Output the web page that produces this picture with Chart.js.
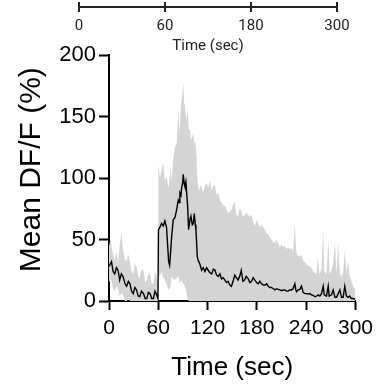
<!DOCTYPE html>
<html>
<head>
<meta charset="utf-8">
<script src="https://cdn.jsdelivr.net/npm/chart.js@4.4.0/dist/chart.umd.min.js"></script>
<style>
  html, body { margin: 0; padding: 0; background: #fff; }
  #wrap { position: relative; width: 379px; height: 388px; }
  #mainChart, #timelineChart { position: absolute; left: 0; top: 0; }
</style>
</head>
<body>
<div id="wrap">
  <canvas id="mainChart" width="379" height="388"></canvas>
  <canvas id="timelineChart" width="379" height="59"></canvas>
</div>
<script>
// timeline strip above the plot
const timelineLabels = ["0", "60", "180", "300"];

// main plot ticks
const xTicks = [0, 60, 120, 180, 240, 300];
const yTicks = [0, 50, 100, 150, 200];

// mean trace (sec, %)
const meanTimes = [0, 3, 5, 7, 9, 11, 13, 15, 17, 19.5, 21.5, 23.5, 25.5, 27.5, 29.5, 31.5, 33.5, 35.5, 37.5, 39.5,
  42, 44, 46, 48, 50, 52, 54, 56, 58, 59.6, 60.2, 62, 64, 66, 68, 70, 71.4, 72.6, 73.8, 75,
  76.2, 78.2, 80.3, 82.3, 84.3, 85.5, 86.3, 87.6, 88.4, 89.6, 90.4, 91.6, 92.4, 93.6, 94.5, 95.7, 96.9, 98.5, 99.7, 101.4,
  102.6, 103.8, 105, 105.8, 106.6, 107.4, 108.6, 110, 111.5, 112.7, 114.7, 116.8, 118.8, 120.8, 122.8, 125, 127, 129, 131, 133,
  135, 137, 139, 141, 143, 145, 147, 149, 151, 153, 155, 157, 159, 161, 163, 165, 167, 169.5, 171.5, 173.5,
  175.5, 177.6, 179.6, 181.6, 183.6, 185.7, 187.7, 189.7, 191.8, 193.8, 195.8, 197.8, 200, 202, 204, 206, 208, 210, 212, 214,
  216, 218, 220, 222, 224, 226.2, 227.4, 228.2, 230.3, 232.3, 234.3, 236.3, 238.4, 240.4, 242.4, 244.5, 246.5, 248.5, 250.5, 252.6,
  254.6, 256.6, 258.6, 260.7, 262, 264.7, 266.8, 268, 270.8, 272.8, 275, 277, 279, 281, 283, 285, 287, 289, 291, 293,
  295, 297, 300];
const meanValues = [28, 32, 24, 22, 27, 25, 17, 22, 20, 14, 12, 16, 14, 8, 6, 11, 9, 4, 3.5, 8,
  6, 2, 2, 7, 6, 2, 2, 8, 5, 2, 58, 60, 63, 61, 65, 60, 45, 32, 29, 40,
  52, 66, 68, 74, 82, 80, 88, 86, 92, 96, 103, 95, 93, 97, 88, 77, 58, 66, 69, 62,
  63, 71, 62, 58, 48, 36, 33, 31, 28, 25, 27, 24, 27, 25, 23, 22, 26, 25, 21, 20,
  22, 18, 19, 17, 15, 16, 13, 12, 16, 21, 19, 17, 20, 25, 16, 17, 20, 18, 15, 16,
  19, 17, 15, 14, 16, 14, 13, 13, 14, 12, 11, 11, 10, 9, 10, 9.5, 9, 8.4, 9, 9,
  8, 8, 9, 9, 10, 14, 9, 7.6, 9, 9.5, 12, 7, 6, 6, 5.7, 6, 5, 4.5, 3.5, 4,
  5, 4, 6, 12, 5, 4, 12, 4, 5, 9, 3, 3, 6, 9, 3, 3, 12, 4, 3, 4,
  2, 2, 1.3];

// spread band (sec, upper %, lower %)
const bandTimes = [0, 2, 3, 5, 7, 9, 11, 13, 15, 17, 19.5, 21.5, 23.5, 25.5, 27.5, 29.5, 31.5, 33.5, 35.5, 37.5,
  39.5, 42, 44, 46, 48, 50, 52, 54, 56, 58, 59.6, 60.2, 62, 64, 66, 68, 70, 72.6, 75, 76.2,
  78.2, 80.3, 82.3, 84.3, 85.5, 86.3, 87.6, 88.4, 89.6, 90.4, 91.6, 92.4, 93.6, 94.5, 95.7, 96.9, 98.5, 99.7, 101.4, 102.6,
  103.8, 105, 106.6, 107.4, 108.6, 110, 112, 114.7, 116.8, 118.8, 120.8, 122.8, 125, 127, 129, 131, 133, 135, 137, 139,
  141, 143, 145, 147, 149, 151, 153, 155, 157, 159, 161, 163, 165, 167, 169.5, 171.5, 173.5, 175.5, 177.6, 179.6,
  181.6, 183.6, 185.7, 187.7, 189.7, 191.8, 193.8, 195.8, 197.8, 200, 202, 204, 206, 208, 210, 212, 214, 216, 218, 220,
  222, 224, 226.2, 227.4, 228.2, 230, 232, 234, 236, 238, 240, 242, 244.5, 246.5, 248.5, 250.5, 252.6, 254, 256, 258.6,
  260.7, 262, 264.7, 267, 268.5, 270.8, 272.8, 275, 276.9, 278.9, 281, 283, 285, 287, 289, 290.6, 293, 295, 297, 300];
const upperValues = [45, 50, 44, 38, 33, 40, 30, 45, 55, 42, 33, 33, 38, 31, 24, 22, 30, 28, 20, 19,
  26, 25, 15, 17, 22, 22, 14, 14, 24, 20, 12, 111, 100, 107, 112, 98, 101, 92, 108, 98,
  115, 125, 128, 156, 140, 142, 160, 164, 172, 177, 160, 161, 150, 148, 156, 140, 139, 130, 134, 136,
  128, 130, 118, 100, 93, 90, 95, 88, 94, 96, 92, 98, 90, 94, 94, 86, 88, 82, 80, 78,
  77, 75, 71, 73, 74, 78, 80, 70, 69, 75, 74, 68, 70, 72, 70, 68, 70, 64, 61, 66,
  63, 60, 62, 60, 58, 55, 54, 52, 50, 48, 47, 50, 47, 44, 46, 44, 45, 42, 44, 42,
  43, 40, 63, 45, 39, 37, 36, 38, 33, 32, 30, 29, 28, 27, 24, 23, 22, 36, 22, 26,
  59, 24, 22, 50, 22, 25, 30, 47, 22, 48, 22, 20, 23, 41, 22, 33, 20, 17, 12, 9];
const lowerValues = [15, 18, 16, 10, 8, 12, 10, 4, 6, 5, 0, 0, 2, 0, 0, 0, 0, 0, 0, 0,
  0, 0, 0, 0, 0, 0, 0, 0, 0, 0, 0, 22, 20, 24, 19, 17, 14, 9, 12, 20,
  18, 17, 19, 20, 18, 15, 17, 16, 15, 14, 13, 12, 9, 6, 2, 0, 0, 0, 0, 0,
  0, 0, 0, 0, 0, 0, 0, 0, 0, 0, 0, 0, 0, 0, 0, 0, 0, 0, 0, 0,
  0, 0, 0, 0, 0, 0, 0, 0, 0, 0, 0, 0, 0, 0, 0, 0, 0, 0, 0, 0,
  0, 0, 0, 0, 0, 0, 0, 0, 0, 0, 0, 0, 0, 0, 0, 0, 0, 0, 0, 0,
  0, 0, 0, 0, 0, 0, 0, 0, 0, 0, 0, 0, 0, 0, 0, 0, 0, 0, 0, 0,
  0, 0, 0, 0, 0, 0, 0, 0, 0, 0, 0, 0, 0, 0, 0, 0, 0, 0, 0, 0];

const mainFont = "'Liberation Sans', Arial, sans-serif";
const bandColor = "#d4d4d4";

function toPoints(times, values) {
    return times.map((t, i) => ({ x: t, y: values[i] }));
}

const mainChart = new Chart(document.getElementById("mainChart"), {
    type: "line",
    data: {
        datasets: [
            { label: "Mean", data: toPoints(meanTimes, meanValues), borderColor: "#000", borderWidth: 1.4, pointRadius: 0, tension: 0, fill: false },
            { label: "Upper", data: toPoints(bandTimes, upperValues), borderColor: "rgba(0,0,0,0)", borderWidth: 0, backgroundColor: bandColor, pointRadius: 0, tension: 0, fill: "+1" },
            { label: "Lower", data: toPoints(bandTimes, lowerValues), borderColor: "rgba(0,0,0,0)", borderWidth: 0, pointRadius: 0, tension: 0, fill: false }
        ]
    },
    options: {
        responsive: false,
        animation: false,
        layout: { padding: { left: 0, top: 55, right: 23, bottom: 1 } },
        plugins: { legend: { display: false }, tooltip: { enabled: false } },
        scales: {
            x: {
                type: "linear",
                min: 0,
                max: 300,
                afterBuildTicks: scale => { scale.ticks = xTicks.map(v => ({ value: v })); },
                afterFit: scale => { scale.height = 86; },
                ticks: { color: "#000", font: { family: mainFont, size: 21 }, padding: 6, maxRotation: 0, autoSkip: false },
                grid: { drawOnChartArea: false, drawTicks: true, tickLength: 9, tickWidth: 2, tickColor: "#000" },
                border: { display: true, color: "#000", width: 2 },
                title: { display: true, text: "Time (sec)", color: "#000", font: { family: mainFont, size: 26 }, padding: { top: 4, bottom: 4 } }
            },
            y: {
                min: 0,
                max: 200,
                afterBuildTicks: scale => { scale.ticks = yTicks.map(v => ({ value: v })); },
                afterFit: scale => { scale.width = 109; },
                ticks: { color: "#000", font: { family: mainFont, size: 22 }, padding: 3 },
                grid: { drawOnChartArea: false, drawTicks: true, tickLength: 10, tickWidth: 2, tickColor: "#000" },
                border: { display: true, color: "#000", width: 2 },
                // two leading spaces nudge the rotated title up a little
                title: { display: true, text: "  Mean DF/F (%)", color: "#000", font: { family: mainFont, size: 30 }, padding: { top: 14, bottom: 4 } }
            }
        }
    }
});

const timelineChart = new Chart(document.getElementById("timelineChart"), {
    type: "line",
    data: { labels: timelineLabels, datasets: [{ data: [], pointRadius: 0 }] },
    options: {
        responsive: false,
        animation: false,
        layout: { padding: { left: 79, right: 42, top: 2, bottom: 0 } },
        plugins: { legend: { display: false }, tooltip: { enabled: false } },
        scales: {
            x: {
                type: "category",
                offset: false,
                afterFit: scale => { scale.height = 52; },
                ticks: { color: "#222", font: { family: "Roboto", size: 15 }, padding: 5, maxRotation: 0, autoSkip: false },
                grid: { display: true, drawOnChartArea: true, drawTicks: true, tickLength: 5, color: "#222", lineWidth: 2, tickColor: "#222", tickWidth: 2 },
                border: { display: true, color: "#222", width: 2 },
                title: { display: true, text: "Time (sec)", color: "#222", font: { family: "Roboto", size: 15 }, padding: { top: 2, bottom: 4 } }
            },
            y: { display: false }
        }
    }
});
</script>
</body>
</html>
